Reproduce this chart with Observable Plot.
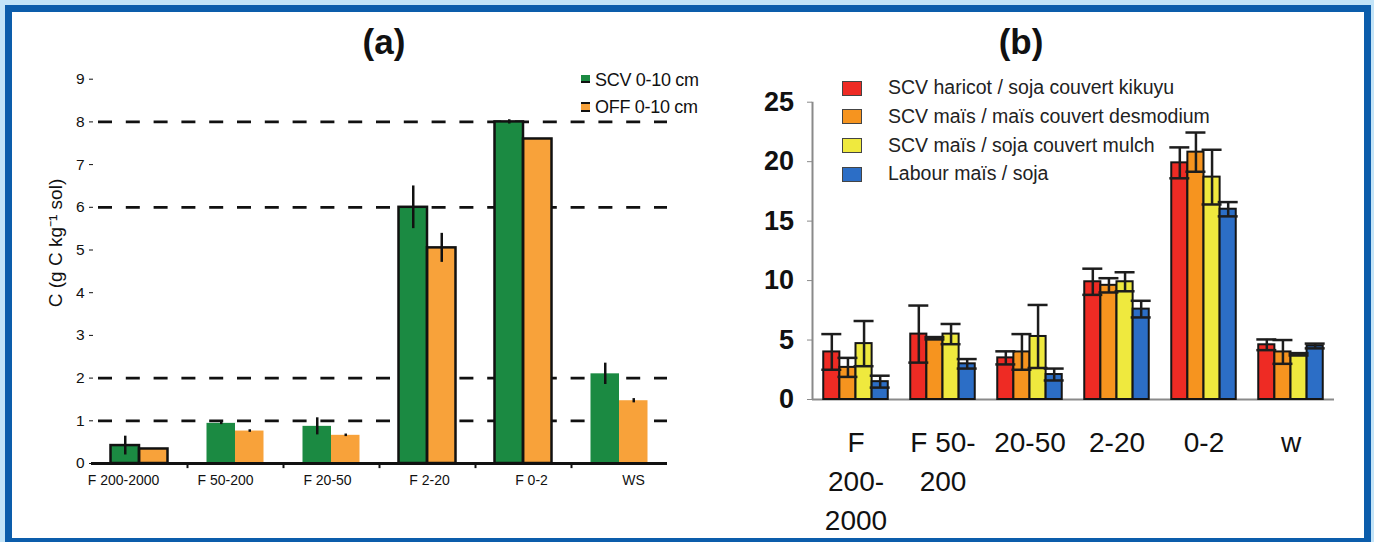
<!DOCTYPE html>
<html><head><meta charset="utf-8">
<script src="https://cdn.jsdelivr.net/npm/d3@7"></script>
<script src="https://cdn.jsdelivr.net/npm/@observablehq/plot@0.6"></script>
<style>
body{margin:0;width:1374px;height:542px;background:#c3e4f8;position:relative;overflow:hidden;font-family:"Liberation Sans",Arial,sans-serif}
#box{position:absolute;left:5px;top:5px;width:1352px;height:526px;border:7px solid #0c5dab;background:#fff}
.abs{position:absolute;white-space:nowrap}
.plotwrap{position:absolute;top:0}
</style></head><body>
<div id="box"></div>
<script>
// ---------- Panel (a) data ----------
const catsA = ["F 200-2000", "F 50-200", "F 20-50", "F 2-20", "F 0-2", "WS"];
const seriesA = ["SCV 0-10 cm", "OFF 0-10 cm"];
const scvA = [0.42, 0.94, 0.87, 6.0, 8.0, 2.1];
const scvErrA = [0.22, 0.03, 0.2, 0.5, 0.05, 0.25];
const offA = [0.34, 0.76, 0.66, 5.05, 7.6, 1.47];
const offErrA = [0, 0.03, 0.03, 0.34, 0, 0.05];
const gridA = [1, 2, 6, 8];
const yTicksA = [0, 1, 2, 3, 4, 5, 6, 7, 8, 9];
const yLabelA = "C (g C kg\u207B\u00B9 sol)";

// ---------- Panel (b) data ----------
const catsB = ["F 200-2000", "F 50-200", "20-50", "2-20", "0-2", "w"];
const tickLabelsB = ["F\n200-\n2000", "F 50-\n200", "20-50", "2-20", "0-2", "w"];
const seriesB = ["SCV haricot / soja couvert kikuyu", "SCV ma\u00EFs / ma\u00EFs couvert desmodium", "SCV ma\u00EFs / soja couvert mulch", "Labour ma\u00EFs / soja"];
const redB = [4.0, 5.5, 3.5, 9.9, 19.9, 4.6];
const redErrB = [1.5, 2.4, 0.55, 1.1, 1.3, 0.45];
const orangeB = [2.7, 5.15, 4.0, 9.6, 20.8, 4.0];
const orangeErrB = [0.8, 0.1, 1.5, 0.6, 1.65, 1.0];
const yellowB = [4.7, 5.5, 5.3, 9.9, 18.7, 3.8];
const yellowErrB = [1.9, 0.85, 2.65, 0.8, 2.3, 0.1];
const blueB = [1.5, 3.0, 2.1, 7.6, 16.0, 4.5];
const blueErrB = [0.5, 0.4, 0.5, 0.7, 0.6, 0.2];
const yTicksB = [0, 5, 10, 15, 20, 25];

// ---------- styles ----------
const colorsA = ["#1b8a42", "#f8a23a"];
const colorsB = ["#ee2b24", "#f6941f", "#efe93e", "#2c6ec6"];
const FONT = '"Liberation Sans", Arial, sans-serif';
const outlinedA = new Set(["F 200-2000", "F 2-20", "F 0-2"]);

function place(node, left) {
  const w = document.createElement("div");
  w.className = "plotwrap";
  w.style.left = left + "px";
  w.appendChild(node);
  document.body.appendChild(w);
}
function addText(txt, left, top, css) {
  const d = document.createElement("div");
  d.className = "abs";
  d.textContent = txt;
  d.style.left = left + "px";
  d.style.top = top + "px";
  Object.assign(d.style, css || {});
  document.body.appendChild(d);
  return d;
}

// ---------- Panel (a) ----------
const rowsA = catsA.flatMap((c, i) => [
  {cat: c, s: 0, v: scvA[i], e: scvErrA[i]},
  {cat: c, s: 1, v: offA[i], e: offErrA[i]}
]);
const bandA = 96;
const insA = [[19.5, 48], [48, 19.5]];
const plotA = Plot.plot({
  width: 700, height: 542,
  marginLeft: 91, marginRight: 33, marginTop: 78.7, marginBottom: 79,
  x: {domain: catsA, padding: 0, axis: null},
  y: {domain: [0, 9], axis: null},
  style: {background: "transparent", fontFamily: FONT, fontSize: "15.5px", color: "#111", overflow: "visible"},
  marks: [
    Plot.ruleY(gridA, {stroke: "#111", strokeWidth: 2.7, strokeDasharray: "14,13.8", strokeDashoffset: 20.8}),
    ...[0, 1].map(s => Plot.barY(rowsA.filter(d => d.s === s), {
      x: "cat", y: "v", fill: colorsA[s], insetLeft: insA[s][0], insetRight: insA[s][1]})),
    ...[0, 1].map(s => Plot.barY(rowsA.filter(d => d.s === s && outlinedA.has(d.cat)), {
      x: "cat", y: "v", fill: "none", stroke: "#111", strokeWidth: 2.5, insetLeft: insA[s][0], insetRight: insA[s][1]})),
    ...[0, 1].map(s => Plot.ruleX(rowsA.filter(d => d.s === s && d.e > 0), {
      x: "cat", y1: d => d.v - d.e, y2: d => d.v + d.e, dx: s === 0 ? -14.25 : 14.25, stroke: "#111", strokeWidth: 2.5})),
    Plot.ruleY([0], {stroke: "#111", strokeWidth: 3}),
    Plot.ruleX(catsA.slice(1), {x: d => d, y1: 0, y2: -0.12, dx: -bandA / 2, stroke: "#111", strokeWidth: 2}),
    Plot.axisY({ticks: yTicksA, tickSize: 4, tickPadding: 5, dx: 2, tickFormat: d => String(d), fontSize: 15.5, label: null})
  ]
});
place(plotA, 0);

// overlay for the (a) category labels, which sit on their own spacing
const plotAx = Plot.plot({
  width: 700, height: 542,
  marginLeft: 70, marginRight: 13.5, marginTop: 78.7, marginBottom: 79,
  x: {type: "band", domain: catsA, padding: 0},
  y: {domain: [0, 9], axis: null},
  style: {background: "transparent", fontFamily: FONT, fontSize: "14px", color: "#111", overflow: "visible"},
  marks: [Plot.axisX({tickSize: 0, tickPadding: 12, fontSize: 14, label: null})]
});
place(plotAx, 0);

// y label of (a)
addText(yLabelA, 55, 243, {fontSize: "19px", lineHeight: "19px", color: "#111",
  transform: "translate(-50%,-50%) rotate(-90deg)"});

// ---------- Panel (b) ----------
const valsB = [redB, orangeB, yellowB, blueB];
const errsB = [redErrB, orangeErrB, yellowErrB, blueErrB];
const rowsB = catsB.flatMap((c, i) => valsB.map((arr, k) => ({cat: c, s: k, v: arr[i], e: errsB[k][i]})));
const bandB = 87, padB = 11.25, bwB = 16.125;
const capW = 20;
const marksB = [
  Plot.ruleY([0], {stroke: "#8a8a8a", strokeWidth: 2}),
  Plot.ruleX([catsB[0]], {x: d => d, y1: 0, y2: 25, dx: -bandB / 2, stroke: "#8a8a8a", strokeWidth: 2})
];
for (let k = 0; k < 4; k++) {
  const iL = padB + bwB * k, iR = bandB - padB - bwB * (k + 1);
  const data = rowsB.filter(d => d.s === k);
  marksB.push(Plot.barY(data, {x: "cat", y: "v", fill: colorsB[k], stroke: "#151515", strokeWidth: 2, insetLeft: iL, insetRight: iR}));
}
for (let k = 0; k < 4; k++) {
  const c = padB + bwB * k + bwB / 2;
  const data = rowsB.filter(d => d.s === k && d.e > 0);
  const cL = c - capW / 2, cR = bandB - c - capW / 2;
  marksB.push(Plot.ruleX(data, {x: "cat", y1: d => d.v - d.e, y2: d => d.v + d.e, dx: c - bandB / 2, stroke: "#1d1d1d", strokeWidth: 2.5}));
  marksB.push(Plot.tickY(data, {x: "cat", y: d => d.v + d.e, insetLeft: cL, insetRight: cR, stroke: "#1d1d1d", strokeWidth: 2.5}));
  marksB.push(Plot.tickY(data, {x: "cat", y: d => d.v - d.e, insetLeft: cL, insetRight: cR, stroke: "#1d1d1d", strokeWidth: 2.5}));
}
marksB.push(Plot.axisY({ticks: yTicksB, tickSize: 5, tickPadding: 13.5, stroke: "#8a8a8a", fill: "#111", fontWeight: "bold", fontSize: 27, label: null}));
marksB.push(Plot.axisX({tickSize: 0, tickPadding: 24, tickFormat: d => tickLabelsB[catsB.indexOf(d)], lineHeight: 1.41, fontSize: 28, fill: "#111", label: null}));

const plotB = Plot.plot({
  width: 674, height: 542,
  marginLeft: 112, marginRight: 40, marginTop: 101.7, marginBottom: 143,
  x: {domain: catsB, padding: 0, axis: null},
  y: {domain: [0, 25], axis: null},
  style: {background: "transparent", fontFamily: FONT, fontSize: "27px", color: "#111", overflow: "visible"},
  marks: marksB
});
place(plotB, 700);

// ---------- titles ----------
addText("(a)", 384, 24.4, {fontSize: "35px", lineHeight: "35px", fontWeight: "bold", transform: "translateX(-50%)", color: "#111"});
addText("(b)", 1021, 24.4, {fontSize: "35px", lineHeight: "35px", fontWeight: "bold", transform: "translateX(-50%)", color: "#111"});

// ---------- legend (a) ----------
const legA = [{y: 80}, {y: 107}];
seriesA.forEach((name, i) => {
  const sw = document.createElement("div");
  sw.className = "abs";
  Object.assign(sw.style, {left: "581px", top: (legA[i].y - 5) + "px", width: "9px", height: i === 0 ? "8px" : "10px",
    background: colorsA[i], borderBottom: "2px solid #111", borderTop: i === 1 ? "2px solid #111" : "none", boxSizing: "border-box"});
  document.body.appendChild(sw);
  addText(name, 595, legA[i].y - 9, {fontSize: "18px", lineHeight: "18px", letterSpacing: "-0.3px", color: "#111"});
});

// ---------- legend (b) ----------
seriesB.forEach((name, i) => {
  const cy = 88 + 28.7 * i;
  const sw = document.createElement("div");
  sw.className = "abs";
  Object.assign(sw.style, {left: "842px", top: (cy - 7.5) + "px", width: "20px", height: "15px",
    background: colorsB[i], border: "1.5px solid #444", boxSizing: "border-box"});
  document.body.appendChild(sw);
  addText(name, 888, cy - 9.75, {fontSize: "19.5px", lineHeight: "19.5px", color: "#222"});
});
</script>
</body></html>
